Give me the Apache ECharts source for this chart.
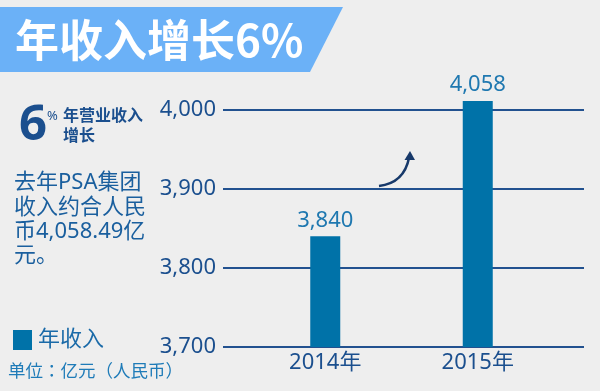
<!DOCTYPE html>
<html><head><meta charset="utf-8">
<script src="https://cdn.jsdelivr.net/npm/echarts@6/dist/echarts.min.js"></script>
<style>html,body{margin:0;padding:0;background:#eeeeee}#c{width:600px;height:391px}</style>
</head><body><div id="c"></div>
<script>
const categories = ['2014年', '2015年'];
const revenue = [3840, 4058];
const valueLabels = ['3,840', '4,058'];
const yMin = 3700, yMax = 4000, yStep = 100;
const seriesName = '年收入';
const titleText = '年收入增长6%';
const bodyLines = ['去年PSA集团', '收入约合人民', '币4,058.49亿', '元。'];
const unitText = '单位：亿元（人民币）';

const FONT = '"Noto Sans", "Noto Sans CJK SC", sans-serif';
const NAVY = '#1b4f8e';
const chart = echarts.init(document.getElementById('c'), null, {renderer: 'canvas'});
chart.setOption({
  backgroundColor: '#eeeeee',
  animation: false,
  textStyle: {fontFamily: FONT},
  grid: [
    {left: 223, right: 16, top: 110, bottom: 44},
    {left: 249, right: 46, top: 101, bottom: 44}
  ],
  xAxis: [
    {gridIndex: 0, type: 'category', data: categories, show: false},
    {gridIndex: 1, type: 'category', data: categories,
     axisLine: {show: false}, axisTick: {show: false},
     axisLabel: {color: NAVY, fontSize: 22, margin: 5, fontFamily: FONT}}
  ],
  yAxis: [
    {gridIndex: 0, type: 'value', min: yMin, max: yMax, interval: yStep,
     axisLine: {show: false}, axisTick: {show: false},
     axisLabel: {color: NAVY, fontSize: 22, margin: 7, fontFamily: FONT,
       formatter: v => v.toLocaleString('en-US')},
     splitLine: {show: true, showMinLine: true, showMaxLine: true, lineStyle: {color: '#22518f', width: 2}}},
    {gridIndex: 1, type: 'value', min: yMin, max: 4011, show: false, splitLine: {show: false}}
  ],
  legend: {
    data: [seriesName], left: 13, top: 329, padding: 0,
    icon: 'rect', itemWidth: 19, itemHeight: 20, itemGap: 0,
    textStyle: {color: '#1a6aa8', fontSize: 22, fontFamily: FONT, padding: [0, 0, 0, 1]}
  },
  series: [{
    name: seriesName, type: 'bar', xAxisIndex: 1, yAxisIndex: 1,
    data: revenue, barWidth: 30, clip: true,
    itemStyle: {color: '#0072a8'},
    label: {show: true, position: 'top', distance: 5, color: '#1f78b0', fontSize: 22,
      fontFamily: FONT, formatter: p => valueLabels[p.dataIndex]}
  }],
  graphic: [
    {type: 'polygon', shape: {points: [[0, 7], [343, 7], [310, 72], [0, 72]]}, style: {fill: '#6bb1f7'}},
    {type: 'text', x: 15, y: 40, style: {text: titleText, font: 'bold 44px "Noto Sans CJK SC", sans-serif', fill: '#ffffff', textVerticalAlign: 'middle'}},
    {type: 'text', x: 19, y: 126, style: {text: '6', font: 'bold 49px "Noto Sans", sans-serif', fill: NAVY, textVerticalAlign: 'middle'}},
    {type: 'text', x: 47, y: 116, style: {text: '%', font: '13px "Noto Sans", sans-serif', fill: NAVY, textVerticalAlign: 'middle'}},
    {type: 'text', x: 63, y: 115, style: {text: '年营业收入', font: 'bold 16px "Noto Sans CJK SC", sans-serif', fill: NAVY, textVerticalAlign: 'middle'}},
    {type: 'text', x: 63, y: 135, style: {text: '增长', font: 'bold 16px "Noto Sans CJK SC", sans-serif', fill: NAVY, textVerticalAlign: 'middle'}},
    {type: 'text', x: 14, y: 171, style: {text: bodyLines.join('\n'), font: '22px ' + FONT, lineHeight: 24.3, fill: '#1a5f9e', textVerticalAlign: 'top'}},
    {type: 'text', x: 8, y: 370, style: {text: unitText, font: '17.5px "Noto Sans CJK JP", sans-serif', fill: '#1e7bb8', textVerticalAlign: 'middle'}},
    {type: 'bezierCurve', shape: {x1: 379, y1: 186, cpx1: 404, cpy1: 183, x2: 409, y2: 158}, style: {fill: 'none', stroke: '#17396a', lineWidth: 2.5}},
    {type: 'polygon', shape: {points: [[410, 151], [404.5, 160], [415, 160]]}, style: {fill: '#17396a'}}
  ]
});
</script></body></html>
